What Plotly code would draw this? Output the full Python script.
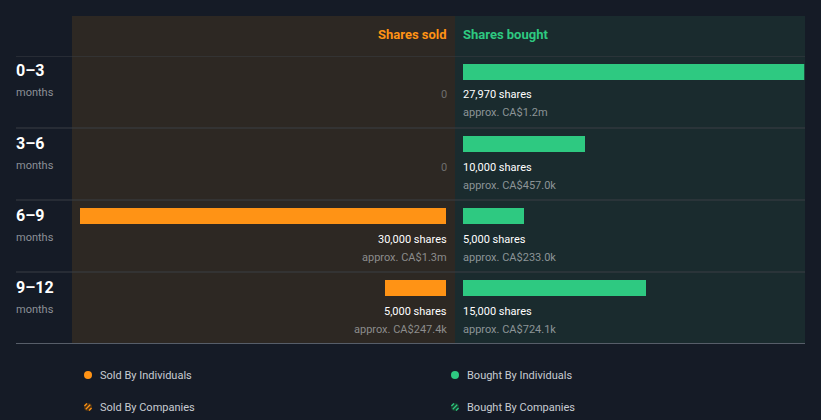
import plotly.graph_objects as go

# ---- data ----
periods = ["0\u20133", "3\u20136", "6\u20139", "9\u201312"]
period_unit = "months"
sold_shares = [0, 0, 30000, 5000]
sold_value = ["", "", "approx. CA$1.3m", "approx. CA$247.4k"]
bought_shares = [27970, 10000, 5000, 15000]
bought_value = ["approx. CA$1.2m", "approx. CA$457.0k", "approx. CA$233.0k", "approx. CA$724.1k"]
legend_labels = ["Sold By Individuals", "Bought By Individuals", "Sold By Companies", "Bought By Companies"]

W, H = 821, 420
BG = "#151b26"
SOLD_BG = "#2d2823"
BOUGHT_BG = "#1a2b2e"
ORANGE = "#ff9315"
GREEN = "#2ec981"
FONT = "Roboto"

def px(x):
    return x / W

def py(y):
    return 1 - y / H

scale = 0.0122  # pixels per share
sold_l, sold_r, sold_zero = 72, 455, 446
buy_l, buy_r, buy_zero = 455, 805, 463
top_rows, bottom_rows = 56, 344

idx = list(range(len(periods)))
bar_w = 16 / 72
bar_off = -20 / 72 - bar_w / 2

fig = go.Figure()
fig.add_trace(go.Bar(
    y=idx, x=sold_shares, orientation="h", xaxis="x", yaxis="y",
    marker=dict(color=ORANGE, line=dict(width=0)), width=bar_w, offset=bar_off,
    hoverinfo="skip", showlegend=False))
fig.add_trace(go.Bar(
    y=idx, x=bought_shares, orientation="h", xaxis="x2", yaxis="y",
    marker=dict(color=GREEN, line=dict(width=0)), width=bar_w, offset=bar_off,
    hoverinfo="skip", showlegend=False))

shapes = []
# panels
shapes.append(dict(type="rect", xref="paper", yref="paper", x0=px(sold_l), x1=px(sold_r),
                   y0=py(343), y1=py(16), fillcolor=SOLD_BG, line=dict(width=0), layer="below"))
shapes.append(dict(type="rect", xref="paper", yref="paper", x0=px(buy_l), x1=px(buy_r),
                   y0=py(343), y1=py(16), fillcolor=BOUGHT_BG, line=dict(width=0), layer="below"))
# row separators
for i in idx:
    shapes.append(dict(type="line", xref="paper", yref="y", x0=px(16), x1=px(805),
                       y0=i - 0.5, y1=i - 0.5, line=dict(color="#3b3f44", width=1), layer="below"))
shapes.append(dict(type="line", xref="paper", yref="y", x0=px(16), x1=px(805),
                   y0=len(idx) - 0.5, y1=len(idx) - 0.5, line=dict(color="#9aa3ad", width=1)))

ann = []
ann.append(dict(text="<b>Shares sold</b>", xref="x", yref="paper", x=0, y=py(34), xshift=3,
                xanchor="right", yanchor="middle", showarrow=False,
                font=dict(family=FONT, size=13, color=ORANGE)))
ann.append(dict(text="<b>Shares bought</b>", xref="x2", yref="paper", x=0, y=py(34), xshift=-2,
                xanchor="left", yanchor="middle", showarrow=False,
                font=dict(family=FONT, size=13, color=GREEN)))

R_SHIFT, L_SHIFT = 3, -2
for i in idx:
    ann.append(dict(text="<b>" + periods[i] + "</b>", xref="paper", yref="y", x=px(16), y=i - 21 / 72,
                    xshift=L_SHIFT, xanchor="left", yanchor="middle", showarrow=False,
                    font=dict(family=FONT, size=16, color="#ffffff")))
    ann.append(dict(text=period_unit, xref="paper", yref="y", x=px(16), y=i + 1 / 72,
                    xshift=L_SHIFT, xanchor="left", yanchor="middle", showarrow=False,
                    font=dict(family=FONT, size=11, color="#8c9097")))
    # sold side
    if sold_shares[i] == 0:
        ann.append(dict(text="0", xref="x", yref="y", x=0, y=i + 3 / 72, xshift=R_SHIFT,
                        xanchor="right", yanchor="middle", showarrow=False,
                        font=dict(family=FONT, size=11, color="#6e6e6e")))
    else:
        ann.append(dict(text=f"{sold_shares[i]:,} shares", xref="x", yref="y", x=0, y=i + 3 / 72,
                        xshift=R_SHIFT, xanchor="right", yanchor="middle", showarrow=False,
                        font=dict(family=FONT, size=11, color="#ffffff")))
        ann.append(dict(text=sold_value[i], xref="x", yref="y", x=0, y=i + 21 / 72,
                        xshift=R_SHIFT, xanchor="right", yanchor="middle", showarrow=False,
                        font=dict(family=FONT, size=11, color="#8c8c8c")))
    # bought side
    if bought_shares[i] == 0:
        ann.append(dict(text="0", xref="x2", yref="y", x=0, y=i + 3 / 72, xshift=L_SHIFT,
                        xanchor="left", yanchor="middle", showarrow=False,
                        font=dict(family=FONT, size=11, color="#6e6e6e")))
    else:
        ann.append(dict(text=f"{bought_shares[i]:,} shares", xref="x2", yref="y", x=0, y=i + 3 / 72,
                        xshift=L_SHIFT, xanchor="left", yanchor="middle", showarrow=False,
                        font=dict(family=FONT, size=11, color="#ffffff")))
        ann.append(dict(text=bought_value[i], xref="x2", yref="y", x=0, y=i + 21 / 72,
                        xshift=L_SHIFT, xanchor="left", yanchor="middle", showarrow=False,
                        font=dict(family=FONT, size=11, color="#8c9497")))

# legend (custom)
leg_pos = [(88, 375), (455, 375), (88, 407), (455, 407)]
leg_col = [ORANGE, GREEN, ORANGE, GREEN]
leg_dark = ["", "", "#4a3216", "#173d2e"]
for k, (lx, ly) in enumerate(leg_pos):
    r = 4
    if k < 2:
        shapes.append(dict(type="circle", xref="paper", yref="paper",
                           x0=px(lx - r), x1=px(lx + r), y0=py(ly + r), y1=py(ly - r),
                           fillcolor=leg_col[k], line=dict(width=0)))
    else:
        shapes.append(dict(type="circle", xref="paper", yref="paper",
                           x0=px(lx - r), x1=px(lx + r), y0=py(ly + r), y1=py(ly - r),
                           fillcolor=leg_dark[k], line=dict(width=0)))
        for d, h in ((-2.3, 1.8), (0, 3.2), (2.3, 1.8)):
            shapes.append(dict(type="line", xref="paper", yref="paper",
                               x0=px(lx + d - h * 0.7), x1=px(lx + d + h * 0.7),
                               y0=py(ly + d + h * 0.7), y1=py(ly + d - h * 0.7),
                               line=dict(color=leg_col[k], width=1.3)))
    ann.append(dict(text=legend_labels[k], xref="paper", yref="paper", x=px(lx + 12), y=py(ly),
                    xshift=L_SHIFT, xanchor="left", yanchor="middle", showarrow=False,
                    font=dict(family=FONT, size=11, color="#c8ccd2")))

sold_range = [(sold_zero - sold_l) / scale, -(sold_r - sold_zero) / scale]
buy_range = [-(buy_zero - buy_l) / scale, (buy_r - buy_zero) / scale]

axis_common = dict(showgrid=False, zeroline=False, showticklabels=False, ticks="", showline=False,
                   fixedrange=True)
fig.update_layout(
    width=W, height=H, margin=dict(l=0, r=0, t=0, b=0),
    paper_bgcolor=BG, plot_bgcolor="rgba(0,0,0,0)",
    showlegend=False, barmode="overlay",
    xaxis=dict(domain=[px(sold_l), px(sold_r)], range=sold_range, **axis_common),
    xaxis2=dict(domain=[px(buy_l), px(buy_r)], range=buy_range, anchor="y", **axis_common),
    yaxis=dict(domain=[py(bottom_rows), py(top_rows)], range=[len(idx) - 0.5, -0.5],
               **axis_common),
    shapes=shapes, annotations=ann,
)
post = ("document.body.style.margin='0';document.body.style.padding='0';"
        "document.body.style.overflow='hidden';document.body.style.background='" + BG + "';")
fig.write_html("out.html", config={"displayModeBar": False}, post_script=post)
